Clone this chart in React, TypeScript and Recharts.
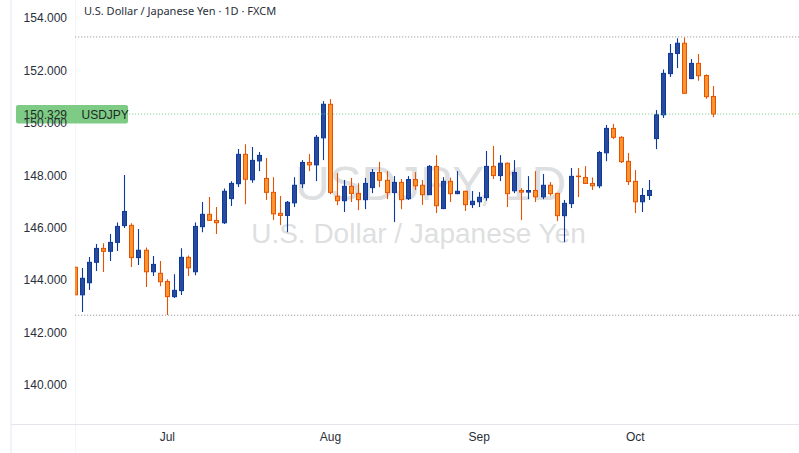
import React from "react";
import { Bar, ComposedChart, ReferenceLine, XAxis, YAxis } from "recharts";

// daily candles
const opens = [
  144.48, 143.43, 143.89, 144.67, 145.2, 145.09, 145.43, 146.07, 146.08, 144.85,
  145.13, 144.31, 144.25, 143.94, 143.36, 143.59, 144.86, 144.31, 146.03, 146.5,
  146.27, 146.18, 147.1, 147.67, 148.79, 147.82, 148.54, 147.87, 147.34, 146.54,
  146.46, 146.94, 147.67, 148.48, 148.39, 149.42, 150.7, 147.19, 147.02, 147.57,
  147.3, 147.06, 147.52, 148.1, 147.8, 147.33, 147.72, 147.1, 147.83, 147.61,
  147.25, 148.33, 146.72, 147.76, 147.29, 147.38, 146.87, 146.98, 147.14, 148.33,
  147.98, 148.45, 147.4, 147.41, 147.35, 147.41, 147.17, 147.61, 147.3, 146.45,
  146.91, 147.96, 147.91, 147.68, 147.59, 148.85, 149.78, 149.44, 148.52, 147.76,
  146.98, 147.22, 149.39, 150.3, 151.87, 152.64, 153.03, 151.68, 152.26, 151.8,
  151.0,
];
const closes = [
  143.43, 144.06, 144.67, 145.2, 145.09, 145.43, 146.04, 146.61, 144.85, 145.13,
  144.31, 144.59, 143.93, 143.36, 143.6, 144.86, 144.46, 146.04, 146.5, 146.27,
  146.18, 147.38, 147.68, 148.79, 147.84, 148.56, 148.75, 147.34, 146.52, 146.46,
  146.96, 147.61, 148.48, 148.39, 149.44, 150.7, 147.34, 147.02, 147.57, 147.3,
  147.06, 147.68, 148.1, 147.8, 147.33, 147.72, 147.06, 147.83, 147.59, 147.25,
  148.33, 146.83, 147.76, 147.29, 147.38, 146.87, 147.0, 147.15, 148.33, 147.98,
  148.45, 147.29, 148.1, 147.35, 147.41, 147.17, 147.61, 147.29, 146.45, 146.92,
  147.95, 147.94, 147.68, 147.59, 148.86, 149.78, 149.44, 148.51, 147.75, 146.98,
  147.22, 147.41, 150.3, 151.88, 152.64, 153.03, 151.12, 152.26, 151.79, 150.99,
  150.329,
];
const highs = [
  144.5, 144.45, 144.87, 145.37, 145.4, 145.75, 146.19, 148.0, 146.16, 145.94,
  145.24, 144.91, 144.72, 144.02, 144.21, 145.21, 144.93, 146.19, 146.97, 147.16,
  146.78, 147.49, 147.76, 148.99, 149.18, 149.07, 148.88, 148.65, 147.92, 147.2,
  147.01, 147.92, 148.57, 148.8, 149.53, 150.82, 150.9, 148.08, 147.81, 147.89,
  147.69, 147.89, 148.23, 148.5, 148.15, 147.96, 147.85, 147.96, 148.11, 147.81,
  148.38, 148.76, 147.92, 147.9, 148.15, 147.4, 147.39, 147.35, 148.92, 149.11,
  148.76, 148.48, 148.57, 147.5, 147.96, 148.15, 148.04, 147.73, 147.32, 147.05,
  148.27, 148.27, 148.34, 147.91, 148.92, 149.91, 149.95, 149.48, 148.84, 148.19,
  147.5, 147.81, 150.48, 152.03, 153.0, 153.22, 153.25, 152.43, 152.62, 151.84,
  151.4,
];
const lows = [
  143.43, 142.77, 143.61, 144.34, 144.3, 144.72, 145.1, 145.98, 144.49, 144.57,
  143.73, 144.15, 143.76, 142.66, 143.31, 143.42, 144.15, 144.18, 145.82, 146.25,
  145.75, 146.13, 146.82, 147.54, 146.89, 147.71, 148.15, 147.05, 146.28, 146.09,
  145.82, 146.78, 147.5, 148.15, 147.77, 148.57, 147.27, 146.85, 146.59, 146.97,
  146.66, 146.7, 147.31, 147.54, 147.08, 146.21, 146.7, 147.05, 147.43, 146.86,
  147.24, 146.55, 146.7, 146.97, 147.27, 146.63, 146.74, 146.78, 147.02, 147.85,
  147.77, 146.78, 147.31, 146.28, 147.08, 146.97, 147.08, 147.21, 146.24, 145.44,
  146.74, 147.16, 147.67, 147.43, 147.5, 148.53, 149.37, 148.46, 147.62, 146.55,
  146.59, 147.05, 148.99, 150.18, 151.74, 152.08, 151.1, 151.66, 151.6, 150.91,
  150.21,
];

const priceTicks = [140, 142, 144, 146, 148, 150, 152, 154];
const monthTicks = [13, 36, 57, 79];
const monthLabels = ["Jul", "Aug", "Sep", "Oct"];

const rangeHigh = 153.27;
const rangeLow = 142.65;
const lastPrice = 150.329;

const candles = opens.map((open, i) => ({
  idx: i,
  open,
  close: closes[i],
  high: highs[i],
  low: lows[i],
}));

const UP_FILL = "#2a4b9b";
const UP_LINE = "#0b3a9f";
const DOWN_FILL = "#fb9330";
const DOWN_LINE = "#e65300";
const SANS = '"Liberation Sans", Arial, sans-serif';

const Candle = (props: any) => {
  const { x, y, width, height, payload } = props;
  const { open, close, high, low } = payload;
  const perUnit = height / (high - low);
  const top = y + (high - Math.max(open, close)) * perUnit;
  const bottom = y + (high - Math.min(open, close)) * perUnit;
  const up = close >= open;
  const line = up ? UP_LINE : DOWN_LINE;
  const left = Math.round(x);
  const mid = left + width / 2;
  return (
    <g>
      <line x1={mid} x2={mid} y1={y} y2={y + height} stroke={line} strokeWidth={1.1} />
      <rect
        x={left + 0.5}
        y={top}
        width={width - 1}
        height={Math.max(bottom - top, 0.5)}
        fill={up ? UP_FILL : DOWN_FILL}
        stroke={line}
        strokeWidth={1}
      />
    </g>
  );
};

const PriceBadge = (props: any) => {
  const y = props.viewBox.y;
  return (
    <g>
      <rect x={16} y={y - 9} width={112} height={18.5} rx={2} fill="#7ecb85" />
      <text x={67} y={y + 4.5} textAnchor="end" fontSize={12} fontFamily={SANS} fill="#1d2a24">
        {lastPrice.toFixed(3)}
      </text>
      <text x={81.5} y={y + 4.5} fontSize={12} fontFamily={SANS} fill="#1d2a24">
        USDJPY
      </text>
    </g>
  );
};

const PriceTick = (props: any) => (
  <text x={67} y={props.y + 4.5} textAnchor="end" fontSize={12} fontFamily={SANS} fill="#2a2e39">
    {props.payload.value.toFixed(3)}
  </text>
);

export default function App() {
  return (
    <div style={{ position: "absolute", left: 0, top: 0, width: 799, height: 453, background: "#fff", overflow: "hidden" }}>
      <div style={{ position: "absolute", left: 10, top: 0, width: 2, height: 453, background: "#f0f3fa" }} />
      <div style={{ position: "absolute", left: 75, top: 0, width: 1, height: 453, background: "#f5f5f7" }} />
      <div style={{ position: "absolute", left: 11, top: 424, width: 788, height: 1, background: "#e4e6ec" }} />

      <div style={{ position: "absolute", left: 76, width: 723, top: 156, textAlign: "center", fontFamily: SANS, fontSize: 48, lineHeight: "56px", color: "#dedfe1", whiteSpace: "nowrap", transform: "translateX(-7px)" }}>
        USDJPY, 1D
      </div>
      <div style={{ position: "absolute", left: 76, width: 723, top: 217, textAlign: "center", fontFamily: SANS, fontSize: 28, lineHeight: "34px", color: "#dedfe1", whiteSpace: "nowrap", transform: "translateX(-19px)" }}>
        U.S. Dollar / Japanese Yen
      </div>
      <div style={{ position: "absolute", left: 84, top: 3, fontFamily: '"Noto Sans", sans-serif', fontSize: 11, lineHeight: "15px", color: "#2a2e39", whiteSpace: "nowrap" }}>
        U.S. Dollar / Japanese Yen · 1D · FXCM
      </div>

      <ComposedChart
        width={799}
        height={453}
        data={candles}
        margin={{ top: 0, right: 0, bottom: 0, left: 0 }}
        style={{ position: "absolute", left: 0, top: 0 }}
      >
        <XAxis
          type="number"
          dataKey="idx"
          domain={[0, 102.1]}
          allowDataOverflow
          ticks={monthTicks}
          tickFormatter={(v) => monthLabels[monthTicks.indexOf(v)]}
          tick={{ fontSize: 12, fontFamily: SANS, fill: "#2a2e39" }}
          tickLine={false}
          axisLine={false}
          height={29}
        />
        <YAxis
          type="number"
          domain={[138.5, 154.68]}
          allowDataOverflow
          ticks={priceTicks}
          tick={<PriceTick />}
          tickLine={false}
          axisLine={false}
          width={75.2}
        />
        <ReferenceLine y={rangeHigh} stroke="#8a8a8a" strokeDasharray="1 2" />
        <ReferenceLine y={rangeLow} stroke="#8a8a8a" strokeDasharray="1 2" />
        <Bar
          dataKey={(d: any) => [d.low, d.high]}
          barSize={5}
          shape={<Candle />}
          isAnimationActive={false}
        />
        <ReferenceLine
          y={lastPrice}
          stroke="#6fc97a"
          strokeDasharray="1 2"
          label={(p: any) => <PriceBadge {...p} />}
        />
      </ComposedChart>
    </div>
  );
}
